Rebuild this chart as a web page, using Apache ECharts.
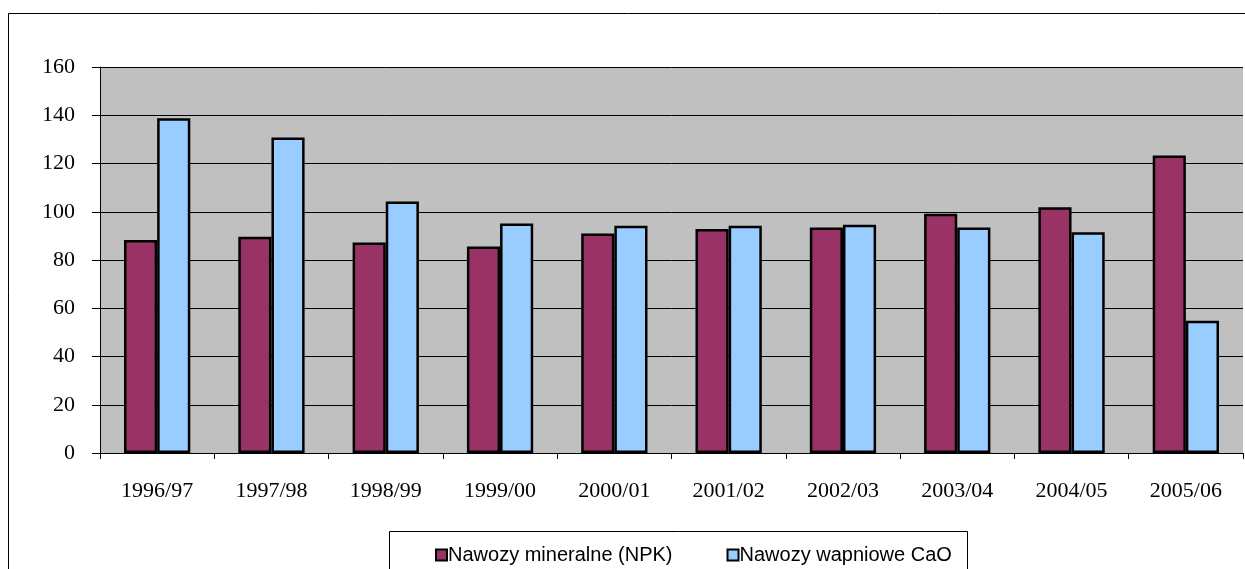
<!DOCTYPE html>
<html>
<head>
<meta charset="utf-8">
<script src="https://cdn.jsdelivr.net/npm/echarts@6/dist/echarts.min.js"></script>
<style>
html,body{margin:0;padding:0;background:#fff;}
#c{width:1245px;height:569px;}
</style>
</head>
<body>
<div id="c"></div>
<script>
const categories = ['1996/97','1997/98','1998/99','1999/00','2000/01','2001/02','2002/03','2003/04','2004/05','2005/06'];
const npk = [88.3, 89.6, 87.3, 85.6, 91.0, 92.9, 93.5, 99.2, 101.9, 123.3];
const cao = [138.8, 130.8, 104.2, 95.1, 94.2, 94.2, 94.6, 93.5, 91.5, 54.8];
const seriesNames = ['Nawozy mineralne (NPK)', 'Nawozy wapniowe CaO'];
const yTicks = {min: 0, max: 160, interval: 20};

const chart = echarts.init(document.getElementById('c'), null, {renderer: 'canvas'});
chart.setOption({
  animation: false,
  backgroundColor: '#fff',
  graphic: [
    {type: 'rect', shape: {x: 8.5, y: 13.5, width: 1300, height: 700}, style: {fill: 'none', stroke: '#000', lineWidth: 1}, z: -10},
    {type: 'rect', shape: {x: 389.5, y: 531.5, width: 578, height: 100}, style: {fill: '#fff', stroke: '#000', lineWidth: 1}, z: 1}
  ],
  grid: {left: 100, right: 2, top: 67, bottom: 116, show: true, backgroundColor: '#c0c0c0', borderWidth: 0},
  legend: {
    data: seriesNames,
    left: 435, top: 545, padding: 0,
    itemWidth: 11, itemHeight: 11, itemGap: 54,
    icon: 'rect',
    textStyle: {fontFamily: 'Liberation Sans', fontSize: 20, color: '#000', padding: [0, 0, 0, -4]},
    itemStyle: {borderColor: '#000', borderWidth: 2},
    z: 5
  },
  xAxis: {
    type: 'category',
    data: categories,
    axisLine: {lineStyle: {color: '#000', width: 1}},
    axisTick: {show: true, length: 6, lineStyle: {color: '#000'}},
    axisLabel: {fontFamily: 'Liberation Serif', fontSize: 22, color: '#000', margin: 27},
    splitLine: {show: false}
  },
  yAxis: {
    type: 'value',
    min: yTicks.min, max: yTicks.max, interval: yTicks.interval,
    axisLine: {show: true, lineStyle: {color: '#000', width: 1}},
    axisTick: {show: true, length: 8, lineStyle: {color: '#000'}},
    axisLabel: {fontFamily: 'Liberation Serif', fontSize: 22, color: '#000', margin: 25},
    splitLine: {show: true, lineStyle: {color: '#000', width: 1}}
  },
  series: [
    {name: seriesNames[0], type: 'bar', data: npk, barGap: '0%', barCategoryGap: '42%',
     itemStyle: {color: '#993366', borderColor: '#000', borderWidth: 2.5}},
    {name: seriesNames[1], type: 'bar', data: cao, barGap: '0%', barCategoryGap: '42%',
     itemStyle: {color: '#99ccff', borderColor: '#000', borderWidth: 2.5}}
  ]
});
</script>
</body>
</html>
